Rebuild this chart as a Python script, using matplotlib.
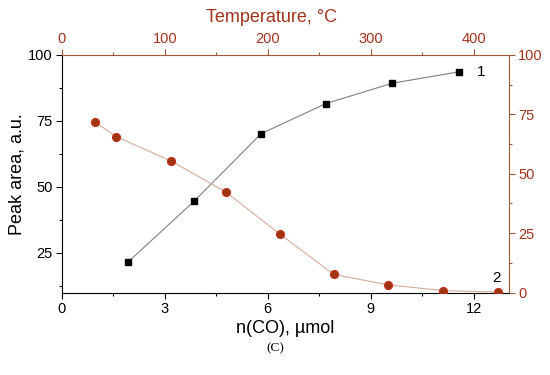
import matplotlib
matplotlib.use("Agg")
import matplotlib.pyplot as plt
from matplotlib.ticker import MultipleLocator

# curve 1: peak area vs n(CO) (bottom / left axes)
n_co = [1.92, 3.85, 5.81, 7.70, 9.63, 11.56]
peak_area = [21.4, 44.5, 70.2, 81.6, 89.3, 93.6]

# curve 2: vs temperature (top / right axes)
temperature = [32, 53, 106, 159, 212, 264, 317, 370, 423]
signal_2 = [71.9, 65.6, 55.4, 42.4, 24.5, 7.6, 3.2, 0.8, 0.2]

plt.rcParams["font.family"] = ["Liberation Sans", "DejaVu Sans"]

brown = "#9c5a3a"
red_txt = "#a3341c"

fig = plt.figure(figsize=(5.5, 3.75), dpi=100)
rect = [61.7 / 550, (375 - 292.5) / 375, (509 - 61.7) / 550, (292.5 - 55) / 375]
ax = fig.add_axes(rect)

ax.plot(n_co, peak_area, color="#808080", lw=0.8, marker="s",
        mfc="black", mec="black", ms=5, zorder=3)
ax.set_xlim(0, 13.03)
ax.set_ylim(10, 100)
ax.xaxis.set_major_locator(MultipleLocator(3))
ax.xaxis.set_minor_locator(MultipleLocator(1.5))
ax.yaxis.set_major_locator(MultipleLocator(25))
ax.yaxis.set_minor_locator(MultipleLocator(12.5))
ax.set_yticks([25, 50, 75, 100])
ax.tick_params(which="major", direction="out", length=4, width=0.8, labelsize=10.5, pad=2.5)
ax.tick_params(which="minor", direction="out", length=2.5, width=0.8)
ax.set_xlabel("n(CO), µmol", fontsize=13, labelpad=3)
ax.set_ylabel("Peak area, a.u.", fontsize=13, labelpad=2)
for s in ["left", "bottom"]:
    ax.spines[s].set_linewidth(0.8)
for s in ["top", "right"]:
    ax.spines[s].set_color(brown)
    ax.spines[s].set_linewidth(0.8)
ax.text(12.1, 93.4, "1", fontsize=11, va="center", ha="left")

# second pair of axes: top and right
ax2 = fig.add_axes(rect, frameon=False)
ax2.plot(temperature, signal_2, color="#d4ac9a", lw=0.8, marker="o",
         mfc="#9e3510", mec="#c8301c", mew=0.8, ms=5.8, zorder=3)
ax2.set_xlim(0, 434)
ax2.set_ylim(0, 100)
ax2.xaxis.tick_top()
ax2.xaxis.set_label_position("top")
ax2.yaxis.tick_right()
ax2.yaxis.set_label_position("right")
ax2.xaxis.set_major_locator(MultipleLocator(100))
ax2.xaxis.set_minor_locator(MultipleLocator(50))
ax2.yaxis.set_major_locator(MultipleLocator(25))
ax2.yaxis.set_minor_locator(MultipleLocator(12.5))
ax2.tick_params(which="major", direction="out", length=4, width=0.8,
                color=brown, labelcolor=red_txt, labelsize=10.5, pad=2.5)
ax2.tick_params(which="minor", direction="out", length=2.5, width=0.8, color=brown)
ax2.set_xlabel("Temperature, °C", fontsize=13, color=red_txt)
ax2.xaxis.set_label_coords(0.468, 1.14)
ax2.text(422, 6.3, "2", fontsize=11, va="center", ha="center")

fig.text(0.5, 1 - 348 / 375, "(C)", fontsize=9.5, ha="center", va="center",
         family=["Liberation Serif", "DejaVu Serif"])

fig.savefig("out.png", dpi=100)
